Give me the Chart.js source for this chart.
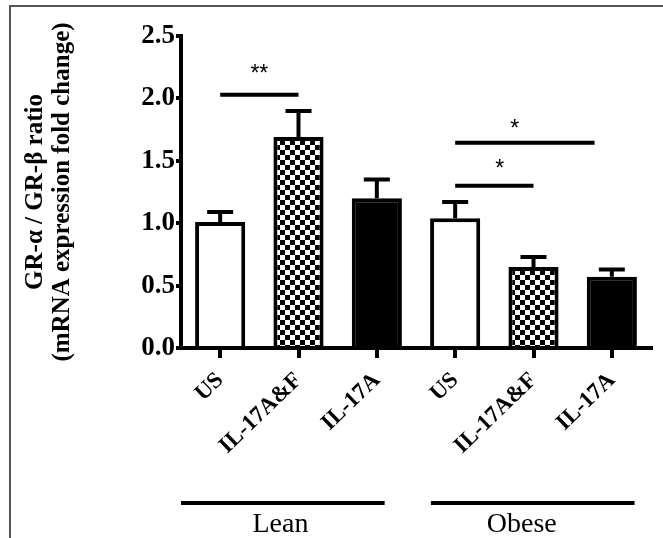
<!DOCTYPE html>
<html>
<head>
<meta charset="utf-8">
<script src="https://cdn.jsdelivr.net/npm/chart.js@4.4.0/dist/chart.umd.min.js"></script>
<style>
html,body{margin:0;padding:0;background:#fff;}
#c{display:block;}
</style>
</head>
<body>
<canvas id="c" width="663" height="538"></canvas>
<script>
// valeurs
const categories = ["US","IL-17A&F","IL-17A","US","IL-17A&F","IL-17A"]
const means = [1.01,1.69,1.20,1.04,0.65,0.57]
const errors = [0.08,0.21,0.15,0.13,0.08,0.06]
const yTicks = [0,0.5,1.0,1.5,2.0,2.5]

// barres de significativité (x en index de catégorie, y en valeur)
const sigFrom = [0,3,3]
const sigTo = [1,4.78,4]
const sigY = [2.03,1.645,1.30]
const sigText = ["**","*","*"]
const sigTextX = [0.5,3.76,3.57]
const sigTextY = [2.23,1.79,1.47]

// groupes sous l'axe
const groups = ["Lean","Obese"]
const groupFrom = [-0.5,2.69]
const groupTo = [2.1,5.29]
const groupLabelX = [0.77,3.85]

const serif = "'Liberation Serif','Times New Roman',serif"

// motif damier
const tile = document.createElement("canvas")
tile.width = 10
tile.height = 10
const tctx = tile.getContext("2d")
tctx.fillStyle = "#fff"
tctx.fillRect(0,0,10,10)
tctx.fillStyle = "#000"
tctx.fillRect(0,0,5,5)
tctx.fillRect(5,5,5,5)

const canvas = document.getElementById("c")
const checker = canvas.getContext("2d").createPattern(tile,"repeat")
const fills = ["#fff",checker,"#000","#fff",checker,"#000"]

const extras = {
id:"extras",
beforeDraw(chart){
const ctx = chart.ctx
ctx.save()
ctx.fillStyle = "#fff"
ctx.fillRect(0,0,chart.width,chart.height)
// cadre gris
ctx.strokeStyle = "#555"
ctx.lineWidth = 2
ctx.beginPath()
ctx.moveTo(chart.width,6)
ctx.lineTo(10,6)
ctx.lineTo(10,chart.height)
ctx.stroke()
ctx.restore()
},
afterDatasetsDraw(chart){
const ctx = chart.ctx
const xs = chart.scales.x
const ys = chart.scales.y
const bars = chart.getDatasetMeta(0).data
ctx.save()
ctx.strokeStyle = "#000"
ctx.fillStyle = "#000"
ctx.lineWidth = 4
ctx.lineCap = "butt"

// barres d'erreur
bars.forEach((b,i)=>{
let yTop = ys.getPixelForValue(means[i]+errors[i])
let yBar = ys.getPixelForValue(means[i])
ctx.beginPath()
ctx.moveTo(b.x,yBar)
ctx.lineTo(b.x,yTop)
ctx.moveTo(b.x-13,yTop)
ctx.lineTo(b.x+13,yTop)
ctx.stroke()
})

// significativité
ctx.font = "23px 'Liberation Sans',Arial,sans-serif"
ctx.textAlign = "center"
ctx.textBaseline = "alphabetic"
sigY.forEach((v,i)=>{
let y = ys.getPixelForValue(v)
ctx.beginPath()
ctx.moveTo(xs.getPixelForValue(sigFrom[i]),y)
ctx.lineTo(xs.getPixelForValue(sigTo[i]),y)
ctx.stroke()
ctx.fillText(sigText[i],xs.getPixelForValue(sigTextX[i]),ys.getPixelForValue(sigTextY[i])+11)
})

// groupes
ctx.font = "28px "+serif
groups.forEach((g,i)=>{
let y = 503
ctx.beginPath()
ctx.moveTo(xs.getPixelForValue(groupFrom[i]),y)
ctx.lineTo(xs.getPixelForValue(groupTo[i]),y)
ctx.stroke()
ctx.fillText(g,xs.getPixelForValue(groupLabelX[i]),532)
})
ctx.restore()
}
}

new Chart(canvas,{
type:"bar",
data:{
labels:categories,
datasets:[{
data:means,
backgroundColor:fills,
borderColor:"#000",
borderWidth:4,
barPercentage:0.64,
categoryPercentage:1
}]
},
options:{
responsive:false,
animation:false,
devicePixelRatio:1,
layout:{padding:{top:36,right:12,left:0,bottom:0}},
plugins:{legend:{display:false},tooltip:{enabled:false}},
scales:{
x:{
offset:true,
grid:{display:true,drawOnChartArea:false,offset:false,color:"#000",lineWidth:4,tickLength:10},
border:{display:true,color:"#000",width:4},
ticks:{color:"#000",font:{family:serif,weight:"bold",size:23},minRotation:44,maxRotation:44,padding:9},
afterFit:s=>{s.height=190}
},
y:{
min:0,
max:2.5,
afterBuildTicks:s=>{s.ticks = yTicks.map(v=>({value:v}))},
grid:{drawOnChartArea:false,color:"#000",lineWidth:4,tickLength:5},
border:{display:true,color:"#000",width:4},
ticks:{color:"#000",font:{family:serif,weight:"bold",size:27},padding:1,callback:v=>Number(v).toFixed(1)},
title:{
display:true,
text:["GR-\u03b1 / GR-\u03b2 ratio","(mRNA expression fold change)"],
color:"#000",
font:{family:serif,weight:"bold",size:25,lineHeight:1.08},
padding:{top:22,bottom:0}
},
afterFit:s=>{s.width=181}
}
}
},
plugins:[extras]
})
</script>
</body>
</html>
